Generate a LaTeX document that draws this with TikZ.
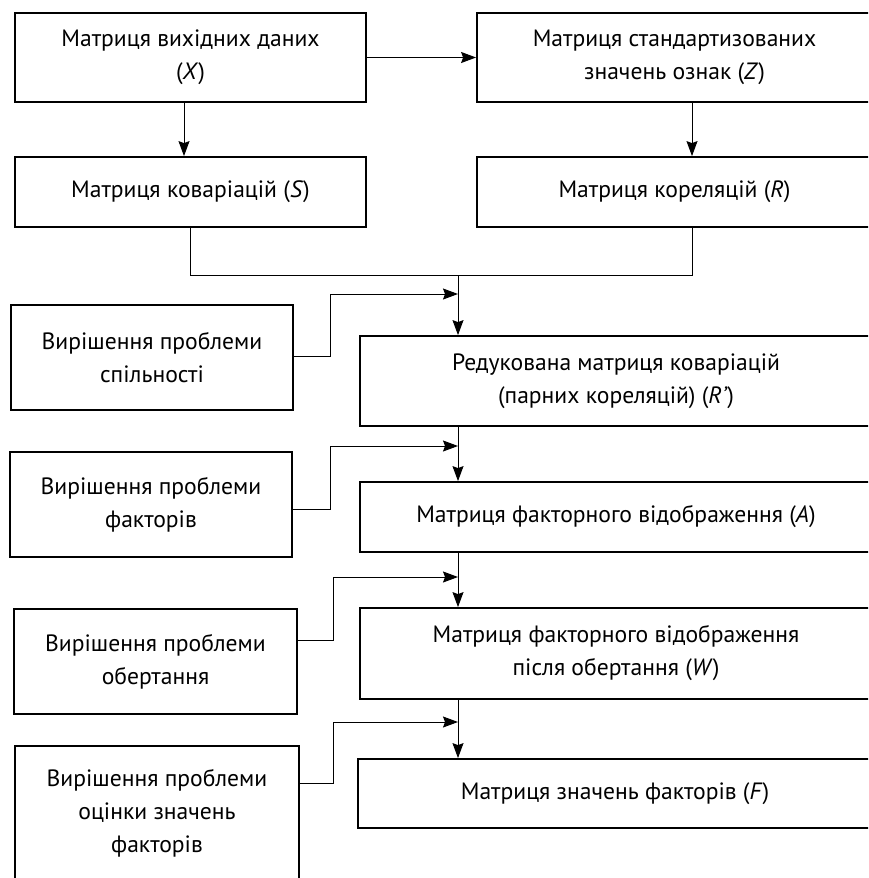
\documentclass[tikz,border=0pt]{standalone}
\usepackage{fontspec}
\setmainfont{PT Sans}
\usetikzlibrary{arrows.meta}
\begin{document}
\begin{tikzpicture}[x=1pt,y=-1pt,
  box/.style={draw, line width=1.8pt, align=center, inner sep=0pt,
    font=\fontsize{23.6}{33}\selectfont},
  conn/.style={line width=1pt},
  arr/.style={conn, -{Stealth[length=15pt,width=11pt,inset=2pt]}}]
\useasboundingbox (0,0) rectangle (868,878);
\clip (0,0) rectangle (868,878);
% boxes
\node[box, minimum width=351pt, minimum height=89pt] (X) at (190.5,57.5) {Матриця вихідних даних\\(\textit{X})};
\node[box, minimum width=395pt, minimum height=89pt] (Z) at (674.5,57.5) {Матриця стандартизованих\\значень ознак (\textit{Z})};
\node[box, minimum width=351pt, minimum height=70pt] (S) at (190.5,192) {Матриця коваріацій (\textit{S})};
\node[box, minimum width=395pt, minimum height=70pt] (R) at (674.5,192) {Матриця кореляцій (\textit{R})};
\node[box, minimum width=282pt, minimum height=105pt] (P1) at (152,357.5) {Вирішення проблеми\\спільності};
\node[box, minimum width=512pt, minimum height=90pt] (Rp) at (616,381) {Редукована матриця коваріацій\\(парних кореляцій) (\textit{R’})};
\node[box, minimum width=282pt, minimum height=105pt] (P2) at (151,504.5) {Вирішення проблеми\\факторів};
\node[box, minimum width=512pt, minimum height=70pt] (A) at (616,517) {Матриця факторного відображення (\textit{A})};
\node[box, minimum width=283pt, minimum height=105pt] (P3) at (155.5,661.5) {Вирішення проблеми\\обертання};
\node[box, minimum width=512pt, minimum height=91pt] (W) at (616,653.5) {Матриця факторного відображення\\після обертання (\textit{W})};
\node[box, minimum width=284pt, minimum height=134pt] (P4) at (157,813) {Вирішення проблеми\\оцінки значень\\факторів};
\node[box, minimum width=514pt, minimum height=69pt] (F) at (615,793.5) {Матриця значень факторів (\textit{F})};
% coordinates
\coordinate (J) at (458,275);
\coordinate (cl) at (184,0);
\coordinate (cr) at (692,0);
\coordinate (in1) at (458,294);
\coordinate (in2) at (458,446);
\coordinate (in3) at (458,577);
\coordinate (in4) at (458,722);
% connectors
\draw[arr] (X.east) -- (Z.west);
\draw[arr] (cl |- X.south) -- (cl |- S.north);
\draw[arr] (cr |- Z.south) -- (cr |- R.north);
\draw[conn] (S.south) |- (J);
\draw[conn] (cr |- R.south) |- (J);
\draw[arr] (J) -- (J |- Rp.north);
\draw[arr] (P1.east |- 0,356) -| (330,294) -- (in1);
\draw[arr] (in1 |- Rp.south) -- (in1 |- A.north);
\draw[arr] (P2.east |- 0,509) -| (330,446) -- (in2);
\draw[arr] (in1 |- A.south) -- (in1 |- W.north);
\draw[arr] (P3.east |- 0,640) -| (333,577) -- (in3);
\draw[arr] (in1 |- W.south) -- (in1 |- F.north);
\draw[arr] (P4.east |- 0,783) -| (333,722) -- (in4);
\end{tikzpicture}
\end{document}
